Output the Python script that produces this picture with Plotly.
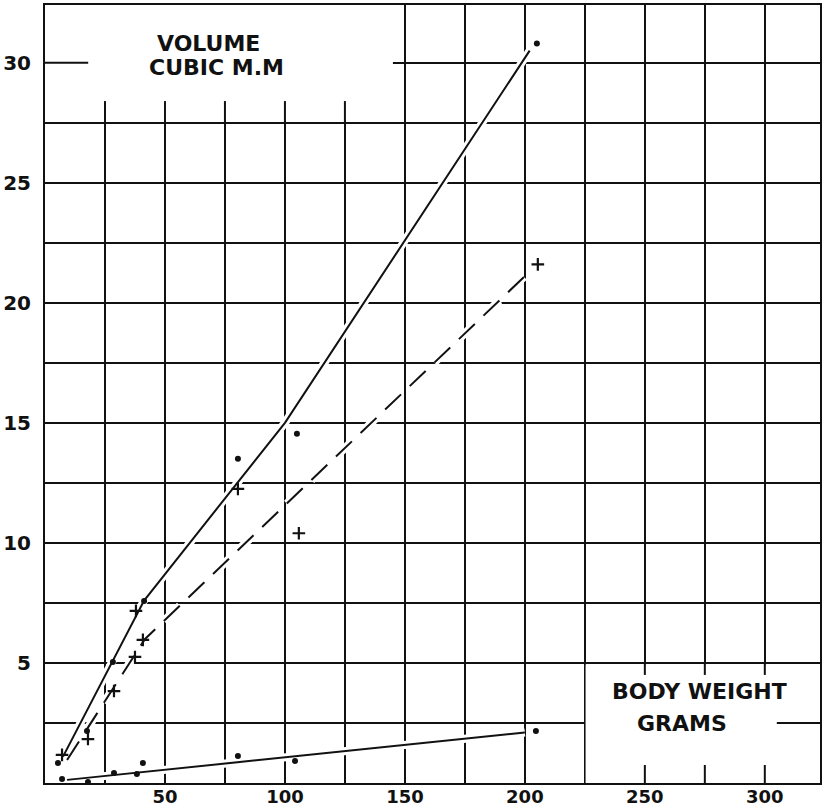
import plotly.graph_objects as go

# body weight (g) / volume (cubic mm)
weight_dots = [5.4, 17.5, 28.3, 41.3, 80.4, 105.0, 205.0]
volume_dots = [0.83, 2.17, 5.04, 7.58, 13.5, 14.54, 30.8]

weight_plus = [7.1, 17.9, 28.75, 37.5, 40.8, 37.9, 80.4, 105.8, 205.4]
volume_plus = [1.17, 1.83, 3.83, 5.25, 5.96, 7.17, 12.25, 10.4, 21.6]

weight_low = [7.1, 17.9, 28.75, 38.3, 40.8, 80.4, 104.2, 204.6]
volume_low = [0.17, 0.04, 0.42, 0.37, 0.83, 1.12, 0.92, 2.17]

# the drawn curves
solid_line_x = [7.5, 41.3, 100, 202]
solid_line_y = [1.1, 7.6, 15.0, 30.5]
dashed_line_x = [9.2, 41.7, 202]
dashed_line_y = [0.96, 6.0, 21.3]
low_line_x = [9.2, 200]
low_line_y = [0.13, 2.1]

x_ticks = [25, 50, 75, 100, 125, 150, 175, 200, 225, 250, 275, 300]
x_labels = ["", "50", "", "100", "", "150", "", "200", "", "250", "", "300"]
y_ticks = [2.5, 5, 7.5, 10, 12.5, 15, 17.5, 20, 22.5, 25, 27.5, 30]
y_labels = ["", "5", "", "10", "", "15", "", "20", "", "25", "", "30"]

INK = "#111111"
DASH = "22px,12px"

fig = go.Figure()

# white halos so the grid breaks where the curves cross it
for lx, ly, dash in [(solid_line_x, solid_line_y, "solid"),
                     (dashed_line_x, dashed_line_y, DASH),
                     (low_line_x, low_line_y, "solid")]:
    fig.add_trace(go.Scatter(x=lx, y=ly, mode="lines",
                             line=dict(color="white", width=8, dash=dash),
                             hoverinfo="skip"))

for lx, ly, dash in [(solid_line_x, solid_line_y, "solid"),
                     (dashed_line_x, dashed_line_y, DASH),
                     (low_line_x, low_line_y, "solid")]:
    fig.add_trace(go.Scatter(x=lx, y=ly, mode="lines",
                             line=dict(color=INK, width=2, dash=dash)))

fig.add_trace(go.Scatter(x=weight_dots, y=volume_dots, mode="markers",
                         marker=dict(symbol="circle", size=6, color=INK),
                         cliponaxis=False))
fig.add_trace(go.Scatter(x=weight_low, y=volume_low, mode="markers",
                         marker=dict(symbol="circle", size=6, color=INK),
                         cliponaxis=False))
fig.add_trace(go.Scatter(x=weight_plus, y=volume_plus, mode="markers",
                         marker=dict(symbol="cross-thin", size=9,
                                     line=dict(color=INK, width=2.2)),
                         cliponaxis=False))

x_font = dict(family="DejaVu Sans", size=18, weight="bold", color=INK)
y_font = dict(family="DejaVu Sans", size=20, weight="bold", color=INK)
note_font = dict(family="DejaVu Sans", size=22, weight="bold", color=INK)

# blank boxes for the lettering, then the short grid stubs left in them
shapes = [
    dict(type="rect", x0=0, x1=145, y0=27.6, y1=32.4, layer="between",
         fillcolor="white", line=dict(width=0)),
    dict(type="rect", x0=225.3, x1=323, y0=0, y1=4.93, layer="between",
         fillcolor="white", line=dict(width=0)),
    dict(type="line", x0=0, x1=18, y0=30, y1=30, layer="between",
         line=dict(color=INK, width=2)),
    dict(type="line", x0=305, x1=323, y0=2.5, y1=2.5, layer="between",
         line=dict(color=INK, width=2)),
]
for gx in [25, 50, 75, 100, 125]:
    shapes.append(dict(type="line", x0=gx, x1=gx, y0=27.5, y1=28.4,
                       layer="between", line=dict(color=INK, width=2)))
for gx in [250, 275, 300]:
    shapes.append(dict(type="line", x0=gx, x1=gx, y0=4.5, y1=5,
                       layer="between", line=dict(color=INK, width=2)))
    shapes.append(dict(type="line", x0=gx, x1=gx, y0=0, y1=0.75,
                       layer="between", line=dict(color=INK, width=2)))

fig.update_layout(
    width=825, height=809,
    margin=dict(l=45, r=5, t=5, b=26),
    paper_bgcolor="white", plot_bgcolor="white",
    showlegend=False,
    shapes=shapes,
    annotations=[
        dict(x=68.3, y=30.8, text="VOLUME", showarrow=False, font=note_font),
        dict(x=71.3, y=29.8, text="CUBIC M.M", showarrow=False, font=note_font),
        dict(x=272.9, y=3.83, text="BODY WEIGHT", showarrow=False, font=note_font),
        dict(x=265.4, y=2.46, text="GRAMS", showarrow=False, font=note_font),
    ],
)
fig.update_xaxes(range=[0, 323], tickvals=x_ticks, ticktext=x_labels,
                 showgrid=True, gridcolor=INK, gridwidth=2, zeroline=False,
                 showline=True, linecolor=INK, linewidth=2, mirror=True,
                 ticks="", tickfont=x_font, ticklabelstandoff=-4,
                 automargin=False)
fig.update_yaxes(range=[0, 32.4], tickvals=y_ticks, ticktext=y_labels,
                 showgrid=True, gridcolor=INK, gridwidth=2, zeroline=False,
                 showline=True, linecolor=INK, linewidth=2, mirror=True,
                 ticks="", tickfont=y_font, ticklabelstandoff=8,
                 automargin=False)

# drop the page's default body margin so the figure sits at the corner
fig.write_html("out.html", config={"displayModeBar": False},
               post_script="document.body.style.margin = '0px';")
